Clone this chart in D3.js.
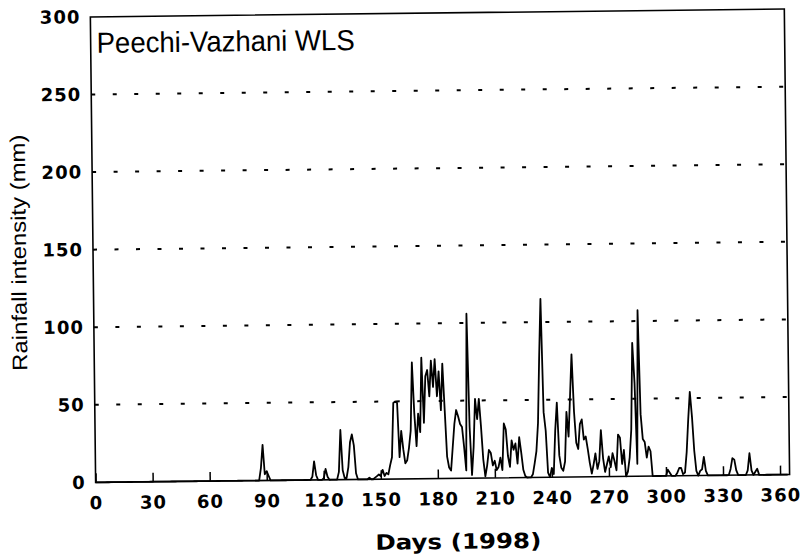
<!DOCTYPE html>
<html>
<head>
<meta charset="utf-8">
<script src="https://cdn.jsdelivr.net/npm/d3@7"></script>
<style>
  body { margin: 0; background: #fff; }
  svg { display: block; }
</style>
</head>
<body>
<svg id="chart" width="808" height="557"></svg>
<script>
// daily rainfall (mm), index = day of 1998
const rainfall = [
  0, 0, 0, 0, 0, 0, 0, 0, 0, 0, // 0
  0, 0, 0, 0, 0, 0, 0, 0, 0, 0, // 10
  0, 0, 0, 0, 0, 0, 0, 0, 0, 0, // 20
  0, 0, 0, 0, 0, 0, 0, 0, 0, 0, // 30
  0, 0, 0, 0, 0, 0, 0, 0, 0, 0, // 40
  0, 0, 0, 0, 0, 0, 0, 0, 0, 0, // 50
  0, 0, 0, 0, 0, 0, 0, 0, 0, 0, // 60
  0, 0, 0, 0, 0, 0, 0, 0, 0, 0, // 70
  0, 0, 0, 0, 0, 0, 0, 8, 23, 4, // 80
  6, 3, 0, 0, 0, 0, 0, 0, 0, 0, // 90
  0, 0, 0, 0, 0, 0, 0, 0, 0, 0, // 100
  0, 0, 0, 0, 2, 12, 3, 0, 0, 0, // 110
  1, 7, 2, 0, 0, 0, 0, 0, 5, 32, // 120
  6, 1, 1, 8, 24, 29, 22, 4, 0, 0, // 130
  0, 0, 0, 0, 1, 0, 0, 1, 2, 3, // 140
  2, 6, 2, 4, 3, 9, 14, 49, 50, 49, // 150
  14, 31, 19, 10, 12, 20, 31, 75, 42, 21, // 160
  42, 30, 78, 36, 66, 70, 53, 76, 59, 77, // 170
  53, 69, 44, 74, 44, 14, 7, 5, 20, 35, // 180
  44, 40, 35, 33, 20, 5, 106, 33, 2, 20, // 190
  51, 38, 51, 33, 12, 1, 8, 18, 16, 8, // 200
  11, 5, 7, 13, 5, 35, 31, 14, 7, 24, // 210
  18, 22, 9, 26, 16, 5, 1, 0, 0, 0, // 220
  2, 9, 17, 35, 78, 115, 42, 30, 3, 0, // 230
  6, 2, 30, 48, 14, 6, 4, 10, 42, 26, // 240
  52, 79, 42, 22, 18, 34, 37, 24, 26, 18, // 250
  9, 2, 8, 15, 5, 10, 30, 12, 3, 8, // 260
  13, 6, 15, 10, 4, 27, 25, 8, 17, 0, // 270
  3, 12, 30, 86, 60, 8, 107, 40, 24, 22, // 280
  12, 19, 16, 0, 0, 0, 0, 0, 0, 0, // 290
  0, 4, 2, 0, 0, 0, 2, 5, 5, 1, // 300
  2, 15, 36, 54, 38, 16, 3, 0, 3, 4, // 310
  12, 3, 0, 0, 0, 0, 0, 0, 0, 0, // 320
  0, 0, 0, 0, 4, 11, 10, 3, 0, 0, // 330
  0, 0, 0, 3, 14, 3, 0, 2, 4, 0, // 340
  0, 0, 0, 0, 0, 0, 0, 0, 0, 0, // 350
  0, 0, 0, 0, 0                 // 360
];
const dayTicks = d3.range(0, 361, 30);
const rainTicks = [0, 50, 100, 150, 200, 250, 300];
const gridValues = [50, 100, 150, 200, 250];

const title = 'Peechi-Vazhani WLS';
const xLabel = 'Days (1998)';
const yLabel = 'Rainfall intensity (mm)';

const plotLeft = 93;
const plotRight = 787;
const plotTop = 13;
const plotBottom = 478.5;

const x = d3.scaleLinear().domain([0, 365]).range([plotLeft, plotRight]);
const y = d3.scaleLinear().domain([0, 300]).range([plotBottom, plotTop]);

const svg = d3.select('#chart');
svg.append('rect').attr('width', 808).attr('height', 557).attr('fill', '#fff');

// the scan is slightly tilted, so the whole figure gets a small turn
const fig = svg.append('g').attr('transform', 'rotate(-0.65, 437, 248)');

// dotted grid
fig.append('g')
  .selectAll('line')
  .data(gridValues)
  .enter()
  .append('line')
  .attr('x1', plotLeft)
  .attr('x2', plotRight)
  .attr('y1', d => y(d))
  .attr('y2', d => y(d))
  .attr('stroke', '#000')
  .attr('stroke-width', 2)
  .attr('stroke-dasharray', '4,17.5');

// rainfall trace
const line = d3.line()
  .x((d, i) => x(i))
  .y(d => y(d));

fig.append('path')
  .datum(rainfall)
  .attr('d', line)
  .attr('fill', 'none')
  .attr('stroke', '#000')
  .attr('stroke-width', 1.8)
  .attr('stroke-linejoin', 'round');

// axes
const xAxis = fig.append('g')
  .attr('transform', `translate(0,${plotBottom})`)
  .call(d3.axisBottom(x).tickValues(dayTicks).tickSize(-9).tickPadding(14));
xAxis.select('.domain').remove();
xAxis.selectAll('.tick line').attr('stroke', '#000').attr('stroke-width', 1.5);

const yAxis = fig.append('g')
  .attr('transform', `translate(${plotLeft},0)`)
  .call(d3.axisLeft(y).tickValues(rainTicks).tickSize(0).tickPadding(10));
yAxis.select('.domain').remove();

fig.selectAll('.tick text')
  .attr('fill', '#000')
  .style('font-family', 'DejaVu Sans, sans-serif')
  .style('font-weight', 'bold')
  .style('font-size', '18px')
  .style('letter-spacing', '1px');

// frame
fig.append('rect')
  .attr('x', plotLeft)
  .attr('y', plotTop)
  .attr('width', plotRight - plotLeft)
  .attr('height', plotBottom - plotTop)
  .attr('fill', 'none')
  .attr('stroke', '#000')
  .attr('stroke-width', 1.6);

fig.append('text')
  .attr('x', 99)
  .attr('y', 49)
  .attr('textLength', 258)
  .attr('lengthAdjust', 'spacingAndGlyphs')
  .style('font-family', 'Liberation Sans, Arial, sans-serif')
  .style('font-size', '29px')
  .text(title);

fig.append('text')
  .attr('x', 455)
  .attr('y', 549)
  .attr('text-anchor', 'middle')
  .attr('textLength', 166)
  .attr('lengthAdjust', 'spacingAndGlyphs')
  .style('font-family', 'DejaVu Sans, sans-serif')
  .style('font-weight', 'bold')
  .style('font-size', '21px')
  .text(xLabel);

fig.append('text')
  .attr('transform', 'translate(26,248) rotate(-90)')
  .attr('text-anchor', 'middle')
  .attr('textLength', 236)
  .attr('lengthAdjust', 'spacingAndGlyphs')
  .style('font-family', 'Liberation Sans, Arial, sans-serif')
  .style('font-size', '21px')
  .text(yLabel);
</script>
</body>
</html>
